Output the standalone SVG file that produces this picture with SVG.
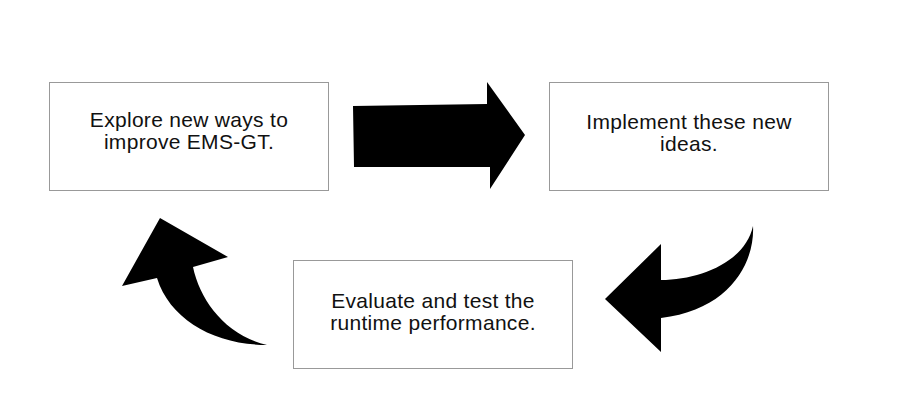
<svg xmlns="http://www.w3.org/2000/svg" width="915" height="412" viewBox="0 0 915 412">
<style>
.box{fill:#fff;stroke:#999;stroke-width:1}
.t{font-family:"Liberation Sans",Arial,sans-serif;font-size:21px;letter-spacing:0.3px;fill:#111;text-anchor:middle}
.arr{fill:#000}
</style>
<rect width="915" height="412" fill="#fff"/>
<g id="node-explore">
<rect class="box" x="49.5" y="82.5" width="279" height="108"/>
<text class="t" x="189" y="127">Explore new ways to</text>
<text class="t" x="189" y="149">improve EMS-GT.</text>
</g>
<g id="node-implement">
<rect class="box" x="549.5" y="82.5" width="279" height="108"/>
<text class="t" x="689" y="129">Implement these new</text>
<text class="t" x="689" y="151">ideas.</text>
</g>
<g id="node-evaluate">
<rect class="box" x="293.5" y="260.5" width="279" height="108"/>
<text class="t" x="433" y="308">Evaluate and test the</text>
<text class="t" x="433" y="330">runtime performance.</text>
</g>
<g id="connectors">
<path class="arr" d="M353,106 L487,104 L487,82 L525,135 L490,189 L490,167 L354,167 Z"/>
<path class="arr" d="M605,299 L661,244 L661,280 C700,280 745,262 753,226 C755,262 730,310 661,318 L661,352 Z"/>
<path class="arr" d="M160,218 L228,257 L193,267 C200,300 225,335 267,345 C215,345 170,320 157,278 L122,286 Z"/>
</g>
</svg>
